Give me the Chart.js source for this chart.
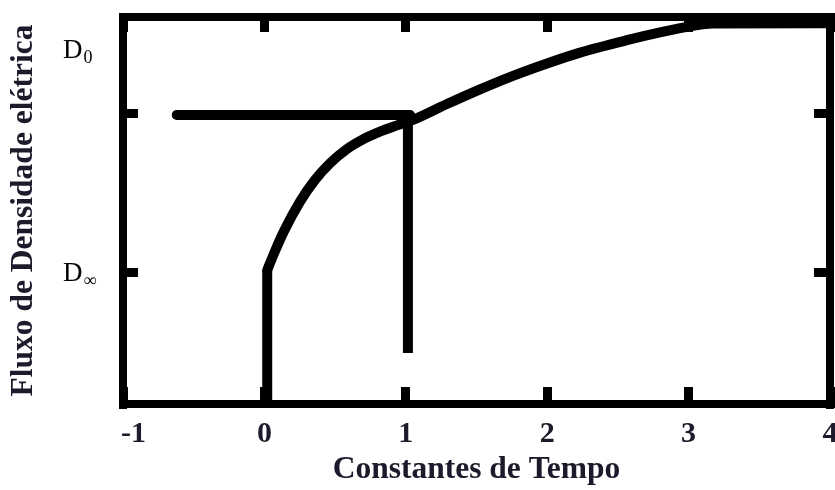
<!DOCTYPE html>
<html>
<head>
<meta charset="utf-8">
<script src="https://cdn.jsdelivr.net/npm/chart.js@4.4.1/dist/chart.umd.min.js"></script>
<style>
  html, body { margin: 0; padding: 0; background: #fff; }
</style>
</head>
<body>
<canvas id="chart" width="835" height="490"></canvas>
<script>
// ------------------------------
// data
// ------------------------------
// vertical rise at t = 0
const riseX = [0.02, 0.02];
const riseY = [0, 34.6];

// D(t) curve after the rise
const curveX = [0.02, 0.075, 0.139, 0.252, 0.358, 0.464, 0.584, 0.697, 0.817, 0.938, 1.051, 1.291, 1.525, 1.758, 1.999, 2.232, 2.564, 2.798, 3.031, 3.166, 4.00];
const curveY = [34.6, 39.5, 44.7, 52.3, 57.9, 62.2, 65.9, 68.4, 70.4, 72.0, 73.4, 77.5, 81.3, 84.8, 88.0, 90.8, 94.0, 96.0, 97.7, 98.3, 98.4];

const hLineX = [-0.62, 1.03];
const hLineY = [74.7, 74.7];

const vLineX = [1.015, 1.015];
const vLineY = [74.7, 13.2];

const yTickValues = [34, 75];
const levelValues = [91.7, 34];
const levelSubs = ["0", "\u221E"];

const xTitle = "Constantes de Tempo";
const yTitle = "Fluxo de Densidade elétrica";

const SERIF = '"Liberation Serif", "Times New Roman", serif';
const TEXT = "#1d1a2b";

const toPoints = (xs, ys) => xs.map((x, i) => ({ x: x, y: ys[i] }));

// ------------------------------
// D0 / D∞ labels next to the axis
// ------------------------------
const levelLabels = {
  id: "levelLabels",
  afterDraw(chart) {
    const ctx = chart.ctx;
    const y = chart.scales.y;
    const left = chart.chartArea.left - 60;
    ctx.save();
    ctx.fillStyle = "#000";
    ctx.textBaseline = "alphabetic";
    levelValues.forEach((v, i) => {
      const base = y.getPixelForValue(v) + 9;
      ctx.font = "27px " + SERIF;
      ctx.fillText("D", left, base);
      const w = ctx.measureText("D").width;
      ctx.font = "18px " + SERIF;
      ctx.fillText(levelSubs[i], left + w + 1, base + 5);
    });
    ctx.restore();
  }
};

const frameBorder = { width: 8, color: "#000" };
const inwardGrid = len => ({
  drawOnChartArea: false,
  drawTicks: true,
  tickLength: len,
  lineWidth: 9,
  color: "#000"
});
const noPad = s => { s.paddingLeft = 0; s.paddingRight = 0; s.paddingTop = 0; s.paddingBottom = 0; };
const setYTicks = s => { s.ticks = yTickValues.map(v => ({ value: v })); };

new Chart(document.getElementById("chart"), {
  type: "line",
  data: {
    datasets: [
      {
        data: toPoints(riseX, riseY),
        borderColor: "#000",
        borderWidth: 10,
        pointRadius: 0
      },
      {
        data: toPoints(curveX, curveY),
        borderColor: "#000",
        borderWidth: 10,
        borderCapStyle: "round",
        cubicInterpolationMode: "monotone",
        pointRadius: 0
      },
      {
        data: toPoints(hLineX, hLineY),
        borderColor: "#000",
        borderWidth: 10,
        borderCapStyle: "round",
        pointRadius: 0
      },
      {
        data: toPoints(vLineX, vLineY),
        borderColor: "#000",
        borderWidth: 10,
        pointRadius: 0
      }
    ]
  },
  options: {
    responsive: false,
    animation: false,
    layout: { padding: 0, autoPadding: false },
    plugins: { legend: { display: false }, tooltip: { enabled: false } },
    scales: {
      x: {
        type: "linear",
        position: "bottom",
        min: -1,
        max: 4,
        border: frameBorder,
        grid: inwardGrid(-17),
        ticks: {
          stepSize: 1,
          autoSkip: false,
          maxRotation: 0,
          padding: 29,
          color: TEXT,
          font: { family: SERIF, size: 30, weight: "bold" },
          callback: v => (v === -1 ? "\u2002\u2009-1" : String(v))
        },
        title: {
          display: true,
          text: xTitle,
          color: TEXT,
          font: { family: SERIF, size: 31.5, weight: "bold" },
          padding: { top: 0, bottom: 1 }
        },
        afterFit: s => { s.height = 86; noPad(s); }
      },
      xTop: {
        type: "linear",
        position: "top",
        min: -1,
        max: 4,
        border: frameBorder,
        grid: inwardGrid(-15),
        ticks: { stepSize: 1, display: false },
        afterFit: s => { s.height = 17; noPad(s); }
      },
      y: {
        type: "linear",
        position: "left",
        min: 0,
        max: 100,
        border: frameBorder,
        grid: inwardGrid(-15),
        ticks: { display: false },
        afterBuildTicks: setYTicks,
        title: {
          display: true,
          text: yTitle,
          color: TEXT,
          font: { family: SERIF, size: 31.5, weight: "bold" },
          padding: { top: 5, bottom: 0 }
        },
        afterFit: s => { s.width = 123; noPad(s); }
      },
      yRight: {
        type: "linear",
        position: "right",
        min: 0,
        max: 100,
        border: frameBorder,
        grid: inwardGrid(-16),
        ticks: { display: false },
        afterBuildTicks: setYTicks,
        afterFit: s => { s.width = 5; noPad(s); }
      }
    }
  },
  plugins: [levelLabels]
});
</script>
</body>
</html>
